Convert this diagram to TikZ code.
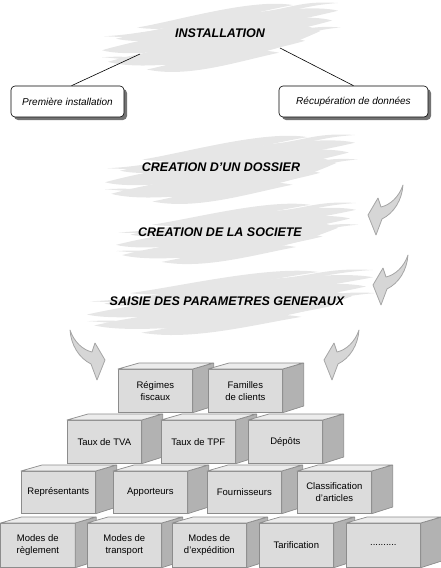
\documentclass[tikz,border=0pt]{standalone}
\usepackage{fontspec}
\setmainfont{Liberation Sans}
\usetikzlibrary{shadows,calc}
\definecolor{brushc}{RGB}{230,230,230}
\definecolor{cfront}{RGB}{220,220,220}
\definecolor{ctop}{RGB}{236,236,236}
\definecolor{cside}{RGB}{178,178,178}
\definecolor{cline}{RGB}{140,140,140}
\definecolor{arrowfill}{RGB}{214,214,214}
\definecolor{arrowedge}{RGB}{165,165,165}
\tikzset{
  heading/.style={font=\bfseries\itshape\fontsize{12.5}{14}\selectfont, inner sep=0pt},
  subbox/.style={draw=black, fill=white, rounded corners=4pt, line width=0.6pt,
    minimum width=113pt, minimum height=31pt, inner sep=0pt,
    font=\itshape\fontsize{10}{11}\selectfont,
    drop shadow={shadow xshift=3pt, shadow yshift=-3pt, fill=black!55, opacity=1}},
  link/.style={draw=black, line width=0.6pt},
  cubefront/.style={draw=cline, fill=cfront, line width=0.7pt, minimum width=74pt,
    inner sep=0pt, align=center, font=\fontsize{9.5}{12}\selectfont},
  cubeside/.style={draw=cline, fill=cside, line width=0.7pt, line join=round},
  cubetop/.style={draw=cline, fill=ctop, line width=0.7pt, line join=round},
  curvearrow/.style={fill=arrowfill, draw=arrowedge, line width=0.8pt, line join=round}
}
\newcommand{\bstroke}[5]{%
  \fill[brushc] (#1,#2) .. controls ($(#1,#2)+(0.35,-#5)$) and ($(#3,#4)+(-0.35,-#5)$) .. (#3,#4)
    .. controls ($(#3,#4)+(-0.35,#5)$) and ($(#1,#2)+(0.35,#5)$) .. cycle;}
\newcommand{\brushat}[4]{%
  \begin{scope}[shift={(#1,#2)},xscale=#3,yscale=#4]
    \bstroke{-0.3}{0.3}{0.85}{-0.2}{0.55}
    \bstroke{-1.0}{0.35}{0.95}{-0.5}{0.35}
    \bstroke{-0.88}{0.02}{1.0}{-0.78}{0.3}
    \bstroke{-0.95}{0.68}{0.72}{0.08}{0.35}
    \bstroke{-0.62}{0.9}{0.5}{0.42}{0.25}
    \bstroke{-0.7}{-0.3}{0.62}{-0.94}{0.2}
    \bstroke{0.25}{-0.72}{1.0}{-1.0}{0.08}
    \bstroke{-1.0}{0.55}{-0.1}{0.8}{0.08}
    \bstroke{0.3}{0.05}{1.02}{-0.3}{0.1}
    \bstroke{-0.98}{-0.05}{-0.3}{-0.2}{0.07}
  \end{scope}}
\newcommand{\curlyarrow}[3]{%
  \begin{scope}[shift={(#1,#2)},xscale=#3]
    \filldraw[curvearrow] (0,0) -- (10,-17) -- (13,-8)
      .. controls (22,-10) and (31,-18) .. (35,-30)
      .. controls (34,-15) and (26,-2) .. (14,4) -- (8,20) -- cycle;
  \end{scope}}
\newcommand{\cubebox}[5]{%
  \node[cubefront, minimum height=#4pt, anchor=north west] (#1) at (#2,#3) {#5};
  \filldraw[cubeside] (#1.north east) -- ++(21,-6) -- ++(0,#4) -- (#1.south east) -- cycle;
  \filldraw[cubetop] (#1.north west) -- ++(21,-6) -- ++(74,0) -- (#1.north east) -- cycle;
}
\begin{document}
\begin{tikzpicture}[x=1pt,y=-1pt]
\useasboundingbox (0,0) rectangle (440,568);
% brush strokes
\brushat{220}{38}{118}{35}
\brushat{230}{170}{125}{35}
\brushat{236}{234}{120}{31}
\brushat{230}{303}{143}{33}
% headings
\node[heading] (inst) at (220,33) {INSTALLATION};
\node[heading] (dossier) at (221,167) {CREATION D'UN DOSSIER};
\node[heading] (societe) at (220,232) {CREATION DE LA SOCIETE};
\node[heading] (saisie) at (227,301) {SAISIE DES PARAMETRES GENERAUX};
% sub boxes
\node[subbox] (prem) at (67.5,101.5) {Première installation};
\node[subbox, minimum width=149pt] (recup) at (353.5,101.5) {Récupération de données};
\coordinate (instl) at (140,54);
\coordinate (instr) at (280,48);
\draw[link] (instl) -- ([xshift=4pt]prem.north);
\draw[link] (instr) -- (recup.north);
% curved arrows
\curlyarrow{368}{215}{1}
\curlyarrow{373}{285}{1}
\curlyarrow{324}{360}{1}
\curlyarrow{105}{360}{-1}
% cubes row 1
\cubebox{regimes}{118}{369}{43}{Régimes\\fiscaux}
\cubebox{familles}{208}{369}{43}{Familles\\de clients}
% row 2
\cubebox{tva}{67}{420}{43}{Taux de TVA}
\cubebox{tpf}{161}{420}{43}{Taux de TPF}
\cubebox{depots}{248}{420}{43}{Dépôts}
% row 3
\cubebox{repr}{21}{471}{42}{Représentants}
\cubebox{appo}{113}{471}{42}{Apporteurs}
\cubebox{fourn}{207}{471}{42}{Fournisseurs}
\cubebox{classif}{297}{471}{42}{Classification\\d'articles}
% row 4
\cubebox{regl}{0.5}{523}{44}{Modes de\\règlement}
\cubebox{transp}{87}{523}{44}{Modes de\\transport}
\cubebox{exped}{172}{523}{44}{Modes de\\d'expédition}
\cubebox{tarif}{259}{523}{44}{Tarification}
\cubebox{etc}{346}{523}{44}{..........}
\end{tikzpicture}
\end{document}
